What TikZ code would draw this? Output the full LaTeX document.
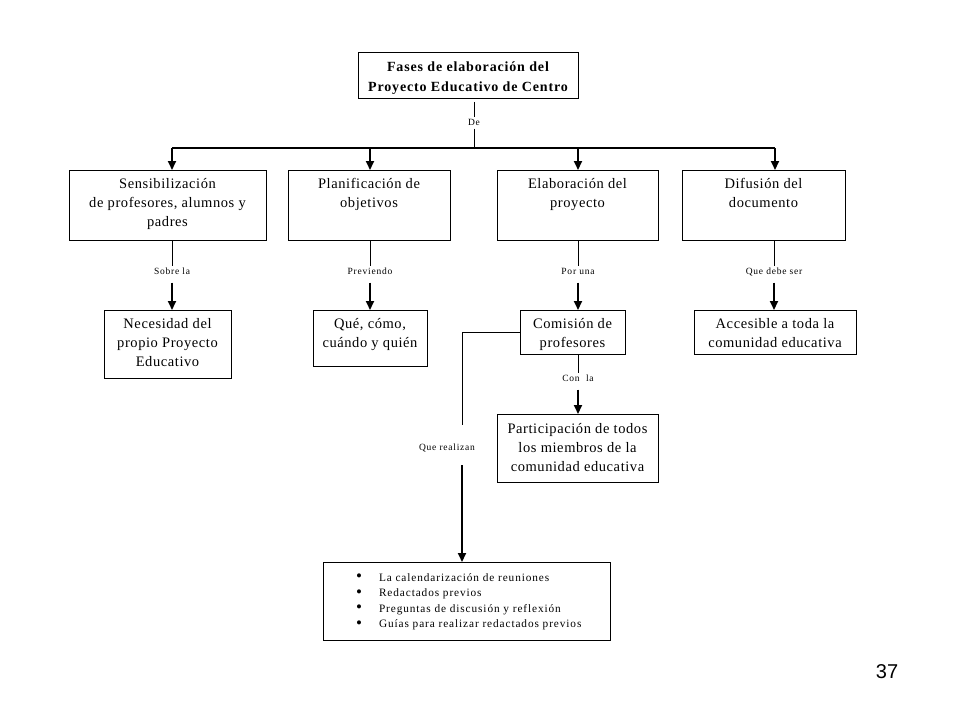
\documentclass[tikz,border=0pt]{standalone}
\usepackage{fontspec}
\setmainfont{Liberation Serif}
\newfontfamily\arialf{Liberation Sans}
\newfontfamily\boxf{Liberation Serif}[LetterSpace=4]
\newfontfamily\titf{Liberation Serif}[LetterSpace=6]
\newfontfamily\lblf{Liberation Serif}[LetterSpace=8]
\newfontfamily\listf{Liberation Serif}[LetterSpace=8]
\usetikzlibrary{arrows.meta}
\newcommand\bt[4][8]{\parbox[c][#3pt][t]{#2pt}{\vspace*{#1pt}\centering\boxf\fontsize{14.5}{19}\selectfont #4\par}}
\newcommand\itm{\makebox[23pt][l]{\raisebox{-0.5pt}{\fontsize{17}{15}\selectfont\textbullet}}}
\begin{document}
\begin{tikzpicture}[x=1pt,y=-1pt,
  box/.style={draw,line width=0.8pt,inner sep=0pt,anchor=north},
  lbl/.style={inner sep=1pt,text height=7pt,text depth=2pt,font=\lblf\fontsize{9.5}{10}\selectfont},
  thin/.style={line width=0.6pt},
  arr/.style={line width=1.8pt,-{Triangle[width=8pt,length=9pt]}}]
\useasboundingbox (0,0) rectangle (960,720);
% title
\node[box] (t) at (468,52) {\parbox[c][46pt][t]{220pt}{\vspace*{9pt}\centering\titf\bfseries\fontsize{14}{20}\selectfont Fases de elaboración del\\Proyecto Educativo de Centro\par}};
% first row
\node[box] (b1) at (167.5,170) {\bt{197}{70}{Sensibilización\\de profesores, alumnos y\\padres}};
\node[box] (b2) at (369,170) {\bt{162}{70}{Planificación de\\objetivos}};
\node[box] (b3) at (577.5,170) {\bt{161}{70}{Elaboración del\\proyecto}};
\node[box] (b4) at (763.5,170) {\bt{163}{70}{Difusión del\\documento}};
% second row
\node[box] (c1) at (167.5,310) {\bt{127}{68}{Necesidad del\\propio Proyecto\\Educativo}};
\node[box] (c2) at (370,310) {\bt{114}{56}{Qué, cómo,\\cuándo y quién}};
\node[box] (c3) at (572.5,310) {\bt{105}{44}{Comisión de\\profesores}};
\node[box] (c4) at (775,310) {\bt{162}{44}{Accesible a toda la\\comunidad educativa}};
\node[box] (p) at (577.5,414) {\bt[9]{161}{68}{Participación de todos\\los miembros de la\\comunidad educativa}};
% bottom box
\node[box] (q) at (466.5,562) {\parbox[c][78pt][t]{287pt}{\vspace*{11pt}\raggedright\leftskip=33pt\listf\fontsize{11.3}{15.5}\selectfont
\itm La calendarización de reuniones\\
\itm Redactados previos\\
\itm Preguntas de discusión y reflexión\\
\itm Guías para realizar redactados previos\par}};
% labels
\node[lbl] (de) at (474,123) {De};
\node[lbl] (l1) at (172,272) {Sobre la};
\node[lbl] (l2) at (370,272) {Previendo};
\node[lbl] (l3) at (578,272) {Por una};
\node[lbl] (l4) at (774,272) {Que debe ser};
\node[lbl] (l5) at (578,379) {Con\ \ la};
\node[lbl] (l6) at (447,448) {Que realizan};
\node[font=\arialf\fontsize{20}{24}\selectfont,inner sep=0pt] (pg) at (887,672) {37};
% connectors
\coordinate (h0) at (474,148);
\coordinate (hl) at (172,148);
\coordinate (hr) at (775,148);
\coordinate (h2) at (370,148);
\coordinate (h3) at (578,148);
\draw[thin] ([yshift=-3pt]t.south -| de) -- (de.north);
\draw[thin] (de.south) -- (h0);
\draw[line width=1.6pt] (hl) -- (hr);
\draw[arr] (hl) -- (hl |- b1.north);
\draw[arr] (h2) -- (h2 |- b2.north);
\draw[arr] (h3) -- (h3 |- b3.north);
\draw[arr] (hr) -- (hr |- b4.north);
% row 1 to row 2
\foreach \l/\b in {l1/b1,l2/b2,l3/b3,l4/b4}{
  \draw[thin] (\l |- \b.south) -- (\l.north);
}
\draw[arr] ([yshift=-5pt]l1.south) -- (l1 |- c1.north);
\draw[arr] ([yshift=-5pt]l2.south) -- (l2 |- c2.north);
\draw[arr] ([yshift=-5pt]l3.south) -- (l3 |- c3.north);
\draw[arr] ([yshift=-5pt]l4.south) -- (l4 |- c4.north);
% Comision to participacion
\draw[thin] (l5 |- c3.south) -- (l5.north);
\draw[arr] ([yshift=-5pt]l5.south) -- (l5 |- p.north);
% Comision to bottom
\coordinate (k1) at (462,332);
\coordinate (k2) at (462,425);
\coordinate (k3) at (462,465);
\draw[thin] (c3.west |- k1) -- (k1) -- (k2);
\draw[arr] (k3) -- (k3 |- q.north);
\end{tikzpicture}
\end{document}
